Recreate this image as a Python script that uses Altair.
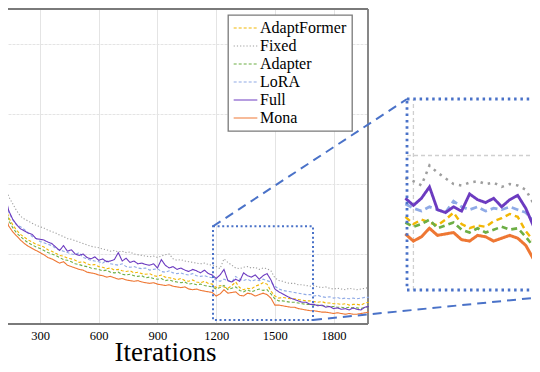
import altair as alt
import pandas as pd

# ---------------- data ----------------
ITER_START = 100
ITER_STEP = 20
SERIES = ["AdaptFormer", "Fixed", "Adapter", "LoRA", "Full", "Mona"]
COLORS = ["#F2B705", "#9E9E9E", "#6DAE45", "#8FAAE6", "#6C3BC0", "#EE7733"]

adaptformer = [
    2.00, 1.72, 1.52, 1.42, 1.34, 1.28, 1.24, 1.20, 1.17, 1.14,
    1.12, 1.10, 1.06, 1.04, 1.01, 0.98, 0.97, 0.94, 0.93, 0.91,
    0.88, 0.89, 0.86, 0.84, 0.85, 0.82, 0.81, 0.79, 0.80, 0.77,
    0.78, 0.76, 0.75, 0.76, 0.73, 0.74, 0.72, 0.71, 0.72, 0.69,
    0.68, 0.70, 0.67, 0.66, 0.65, 0.63, 0.65, 0.62, 0.61, 0.63,
    0.60, 0.59, 0.61, 0.58, 0.57, 0.52, 0.55, 0.53, 0.51, 0.55,
    0.60, 0.52, 0.49, 0.51, 0.50, 0.54, 0.56, 0.59, 0.57, 0.47,
    0.40, 0.37, 0.38, 0.37, 0.36, 0.36, 0.35, 0.34, 0.33, 0.33,
    0.32, 0.31, 0.32, 0.30, 0.30, 0.29, 0.29, 0.28, 0.29, 0.27,
    0.28, 0.28, 0.27, 0.30, 0.31,
]
fixed = [
    2.15, 1.98, 1.82, 1.72, 1.62, 1.54, 1.50, 1.47, 1.44, 1.41,
    1.39, 1.37, 1.34, 1.32, 1.30, 1.27, 1.25, 1.22, 1.21, 1.19,
    1.17, 1.15, 1.13, 1.11, 1.10, 1.09, 1.07, 1.06, 1.04, 1.05,
    1.03, 1.04, 1.02, 1.03, 1.00, 0.99, 0.98, 0.97, 0.96, 0.97,
    0.95, 0.97, 0.99, 1.00, 0.93, 0.91, 0.92, 0.90, 0.89, 0.88,
    0.87, 0.86, 0.87, 0.85, 0.84, 0.82, 0.79, 0.93, 0.88, 0.84,
    0.80, 0.79, 0.81, 0.82, 0.80, 0.81, 0.78, 0.80, 0.79, 0.76,
    0.66, 0.62, 0.61, 0.59, 0.58, 0.58, 0.56, 0.56, 0.55, 0.54,
    0.55, 0.53, 0.52, 0.53, 0.51, 0.50, 0.51, 0.50, 0.49, 0.51,
    0.50, 0.49, 0.50, 0.51, 0.52,
]
adapter = [
    1.95, 1.68, 1.48, 1.38, 1.30, 1.25, 1.20, 1.16, 1.13, 1.10,
    1.08, 1.05, 1.02, 1.00, 0.98, 0.95, 0.92, 0.91, 0.89, 0.86,
    0.85, 0.83, 0.82, 0.80, 0.79, 0.78, 0.76, 0.77, 0.74, 0.73,
    0.74, 0.71, 0.70, 0.71, 0.69, 0.68, 0.69, 0.66, 0.67, 0.65,
    0.64, 0.65, 0.62, 0.63, 0.61, 0.60, 0.59, 0.60, 0.57, 0.58,
    0.56, 0.57, 0.55, 0.54, 0.53, 0.50, 0.52, 0.55, 0.49, 0.51,
    0.53, 0.48, 0.46, 0.49, 0.46, 0.48, 0.50, 0.48, 0.49, 0.43,
    0.36, 0.33, 0.33, 0.32, 0.31, 0.31, 0.30, 0.29, 0.28, 0.28,
    0.27, 0.27, 0.26, 0.26, 0.25, 0.25, 0.24, 0.24, 0.23, 0.24,
    0.23, 0.23, 0.22, 0.24, 0.25,
]
lora = [
    2.12, 1.83, 1.60, 1.49, 1.42, 1.39, 1.35, 1.30, 1.25, 1.22,
    1.18, 1.16, 1.14, 1.12, 1.08, 1.06, 1.04, 1.02, 1.00, 0.99,
    1.02, 0.95, 0.93, 0.91, 0.90, 0.89, 0.87, 0.91, 0.86, 0.85,
    0.84, 0.86, 0.82, 0.81, 0.82, 0.80, 0.79, 0.80, 0.77, 0.78,
    0.79, 0.75, 0.74, 0.76, 0.73, 0.72, 0.73, 0.71, 0.70, 0.72,
    0.69, 0.68, 0.69, 0.67, 0.66, 0.63, 0.61, 0.64, 0.62, 0.60,
    0.68, 0.64, 0.62, 0.64, 0.61, 0.63, 0.62, 0.64, 0.62, 0.60,
    0.54, 0.50, 0.48, 0.47, 0.46, 0.45, 0.44, 0.43, 0.42, 0.42,
    0.40, 0.41, 0.39, 0.38, 0.39, 0.37, 0.38, 0.36, 0.37, 0.36,
    0.37, 0.36, 0.37, 0.38, 0.38,
]
full = [
    2.10, 1.85, 1.62, 1.50, 1.42, 1.36, 1.33, 1.30, 1.28, 1.22,
    1.21, 1.20, 1.17, 1.15, 1.10, 1.05, 1.12, 1.04, 1.06, 1.00,
    0.98, 1.00, 0.95, 0.93, 0.96, 0.91, 0.93, 0.89, 0.90, 0.92,
    1.02, 0.90, 0.94, 0.88, 0.90, 0.86, 0.87, 0.85, 0.84, 0.86,
    0.80, 0.92, 0.84, 0.80, 0.82, 0.78, 0.80, 0.77, 0.75, 0.78,
    0.76, 0.73, 0.77, 0.72, 0.70, 0.65, 0.70, 0.78, 0.62, 0.60,
    0.64, 0.61, 0.73, 0.69, 0.67, 0.70, 0.64, 0.69, 0.72, 0.63,
    0.50, 0.46, 0.43, 0.40, 0.37, 0.35, 0.33, 0.31, 0.31, 0.28,
    0.28, 0.26, 0.27, 0.24, 0.25, 0.22, 0.23, 0.21, 0.22, 0.20,
    0.23, 0.21, 0.20, 0.24, 0.25,
]
mona = [
    1.85, 1.58, 1.40, 1.32, 1.26, 1.20, 1.15, 1.11, 1.08, 1.05,
    1.02, 0.99, 0.95, 0.93, 0.90, 0.87, 0.89, 0.84, 0.82, 0.80,
    0.78, 0.77, 0.74, 0.73, 0.72, 0.70, 0.69, 0.67, 0.68, 0.66,
    0.64, 0.65, 0.63, 0.62, 0.61, 0.62, 0.60, 0.59, 0.58, 0.59,
    0.57, 0.56, 0.55, 0.56, 0.54, 0.53, 0.52, 0.53, 0.50, 0.49,
    0.50, 0.48, 0.47, 0.46, 0.45, 0.40, 0.43, 0.49, 0.44, 0.45,
    0.46, 0.41, 0.40, 0.44, 0.43, 0.40, 0.42, 0.44, 0.42, 0.37,
    0.27, 0.27, 0.26, 0.25, 0.24, 0.24, 0.22, 0.21, 0.20, 0.19,
    0.19, 0.18, 0.17, 0.17, 0.16, 0.15, 0.16, 0.15, 0.14, 0.15,
    0.14, 0.14, 0.15, 0.16, 0.17,
]
X_TICKS = [300, 600, 900, 1200, 1500, 1800]
Y_GRID = [0, 1, 2, 3, 4]

values = {"AdaptFormer": adaptformer, "Fixed": fixed, "Adapter": adapter,
          "LoRA": lora, "Full": full, "Mona": mona}
DRAW_ORDER = ["Fixed", "LoRA", "AdaptFormer", "Adapter", "Full", "Mona"]
rows = []
for s in DRAW_ORDER:
    for i, v in enumerate(values[s]):
        rows.append({"iter": ITER_START + i * ITER_STEP, "loss": v, "series": s})
df = pd.DataFrame(rows)

# ---------------- layout ----------------
WIDTH, PLOT_W, PLOT_H = 524, 360, 315
X_DOMAIN = [136.4, 1976]
Y_DOMAIN = [0, 4.5]
BOX_X = [1184, 1695]
BOX_Y = [0.057, 1.396]
INSET_X_RANGE = [399, 604]
INSET_Y_RANGE = [281, 90]
BLUE = "#4A72C8"
SERIF = "Liberation Serif"

xs_main = alt.Scale(domain=X_DOMAIN, range=[0, PLOT_W], nice=False, zero=False)
ys_main = alt.Scale(domain=Y_DOMAIN, range=[PLOT_H, 0], nice=False, zero=False)
xs_in = alt.Scale(domain=BOX_X, range=INSET_X_RANGE, nice=False, zero=False)
ys_in = alt.Scale(domain=BOX_Y, range=INSET_Y_RANGE, nice=False, zero=False)

AX_X = alt.Axis(values=X_TICKS, format="d", title="Iterations", grid=True,
                gridColor="#e4e4e4", ticks=False, domain=False,
                labelFont=SERIF, labelFontSize=12.5, labelColor="black",
                labelPadding=5, labelFlush=False,
                titleFont=SERIF, titleFontSize=27, titleFontWeight="normal",
                titleColor="black", titleX=157, titleY=36,
                titleBaseline="alphabetic", titleAlign="center")
AX_Y = alt.Axis(values=Y_GRID, title=None, labels=False, ticks=False, domain=False,
                grid=True, gridColor="#e4e4e4", gridDash=[3, 1])

LEG = alt.Legend(orient="none", legendX=220, legendY=6, title=None,
                 labelFont=SERIF, labelFontSize=16, labelColor="black",
                 symbolType="stroke", symbolSize=560, padding=5, rowPadding=2,
                 clipHeight=16, labelOffset=2, strokeColor="#7a7a7a",
                 fillColor="white")

DASH_MAIN = [[3, 2], [1.2, 2], [3, 2], [3, 2], [1, 0], [1, 0]]
WIDTH_MAIN = [1.1, 1.1, 1.1, 1.1, 1.6, 1.4]
DASH_IN = [[6, 4], [2.5, 5], [6, 4], [7, 4], [1, 0], [1, 0]]
WIDTH_IN = [2.4, 3.0, 2.4, 2.0, 3.0, 3.0]


def inv_x(px):
    return X_DOMAIN[0] + px / PLOT_W * (X_DOMAIN[1] - X_DOMAIN[0])


def inv_y(py):
    return Y_DOMAIN[0] + (PLOT_H - py) / PLOT_H * (Y_DOMAIN[1] - Y_DOMAIN[0])


frame = pd.DataFrame({
    "x": [X_DOMAIN[0], X_DOMAIN[1], X_DOMAIN[0]],
    "x2": [X_DOMAIN[1], X_DOMAIN[1], X_DOMAIN[1]],
    "y": [Y_DOMAIN[1], Y_DOMAIN[0], Y_DOMAIN[0]],
    "y2": [Y_DOMAIN[1], Y_DOMAIN[1], Y_DOMAIN[0]],
})
box = pd.DataFrame({"x": [BOX_X[0]], "x2": [BOX_X[1]], "y": [BOX_Y[0]], "y2": [BOX_Y[1]]})
conn = pd.DataFrame({
    "x": [BOX_X[0], BOX_X[1]],
    "y": [BOX_Y[1], BOX_Y[0]],
    "x2": [inv_x(INSET_X_RANGE[0]), inv_x(INSET_X_RANGE[1])],
    "y2": [inv_y(INSET_Y_RANGE[1]), inv_y(INSET_Y_RANGE[0])],
})

main_lines = alt.Chart(df).mark_line(clip=True).encode(
    x=alt.X("iter:Q", scale=xs_main, axis=AX_X),
    y=alt.Y("loss:Q", scale=ys_main, axis=AX_Y),
    color=alt.Color("series:N", scale=alt.Scale(domain=SERIES, range=COLORS), legend=LEG),
    strokeDash=alt.StrokeDash("series:N", scale=alt.Scale(domain=SERIES, range=DASH_MAIN), legend=LEG),
    strokeWidth=alt.StrokeWidth("series:N", scale=alt.Scale(domain=SERIES, range=WIDTH_MAIN), legend=LEG),
)
main_frame = alt.Chart(frame).mark_rule(color="#7a7a7a", strokeWidth=1.8).encode(
    x=alt.X("x:Q", scale=xs_main, axis=AX_X), x2="x2:Q",
    y=alt.Y("y:Q", scale=ys_main, axis=AX_Y), y2="y2:Q")
main_box = alt.Chart(box).mark_rect(filled=False, stroke=BLUE, strokeWidth=2,
                                    strokeDash=[2, 2.6]).encode(
    x=alt.X("x:Q", scale=xs_main, axis=AX_X), x2="x2:Q",
    y=alt.Y("y:Q", scale=ys_main, axis=AX_Y), y2="y2:Q")
connectors = alt.Chart(conn).mark_rule(color=BLUE, strokeWidth=2, strokeDash=[9, 6]).encode(
    x=alt.X("x:Q", scale=xs_main, axis=AX_X), x2="x2:Q",
    y=alt.Y("y:Q", scale=ys_main, axis=AX_Y), y2="y2:Q")

main_layer = alt.layer(main_frame, main_lines, main_box, connectors)

# ---------------- inset ----------------
df_in = df[(df["iter"] >= 1180) & (df["iter"] <= 1720)]
grid_v = pd.DataFrame({"x": [1200, 1500], "y": [BOX_Y[0]] * 2, "y2": [BOX_Y[1]] * 2})
grid_h = pd.DataFrame({"x": [BOX_X[0]], "x2": [BOX_X[1]], "y": [1.0]})

in_grid_v = alt.Chart(grid_v).mark_rule(color="#cfcfcf", strokeWidth=1.3, strokeDash=[4, 3]).encode(
    x=alt.X("x:Q", scale=xs_in, axis=None),
    y=alt.Y("y:Q", scale=ys_in, axis=None), y2="y2:Q")
in_grid_h = alt.Chart(grid_h).mark_rule(color="#cfcfcf", strokeWidth=1.3, strokeDash=[4, 3]).encode(
    x=alt.X("x:Q", scale=xs_in, axis=None), x2="x2:Q",
    y=alt.Y("y:Q", scale=ys_in, axis=None))
in_lines = alt.Chart(df_in).mark_line(clip=True).encode(
    x=alt.X("iter:Q", scale=xs_in, axis=None),
    y=alt.Y("loss:Q", scale=ys_in, axis=None),
    color=alt.Color("series:N", scale=alt.Scale(domain=SERIES, range=COLORS), legend=None),
    strokeDash=alt.StrokeDash("series:N", scale=alt.Scale(domain=SERIES, range=DASH_IN), legend=None),
    strokeWidth=alt.StrokeWidth("series:N", scale=alt.Scale(domain=SERIES, range=WIDTH_IN), legend=None),
)
in_box = alt.Chart(box).mark_rect(filled=False, stroke=BLUE, strokeWidth=2.8,
                                  strokeDash=[2.5, 3.8]).encode(
    x=alt.X("x:Q", scale=xs_in, axis=None), x2="x2:Q",
    y=alt.Y("y:Q", scale=ys_in, axis=None), y2="y2:Q")

inset_layer = alt.layer(in_grid_v, in_grid_h, in_lines, in_box)

chart = alt.layer(main_layer, inset_layer).resolve_scale(
    x="independent", y="independent", color="independent",
    strokeDash="independent", strokeWidth="independent",
).properties(
    width=WIDTH, height=PLOT_H,
    autosize=alt.AutoSizeParams(type="none"),
    padding={"left": 0, "top": 1, "right": 0, "bottom": 40},
).configure(
    font=SERIF,
    style={"guide-label": {"font": SERIF, "fill": "black"},
           "guide-title": {"font": SERIF, "fill": "black"}},
).configure_view(stroke=None).configure_legend(
    strokeWidth=1.3, labelFont=SERIF, labelFontSize=16, labelColor="black",
    rowPadding=2, clipHeight=16,
).configure_axis(labelFont=SERIF, titleFont=SERIF, labelColor="black", titleColor="black")

chart.save("out.html", embed_options={"renderer": "svg", "actions": False})
